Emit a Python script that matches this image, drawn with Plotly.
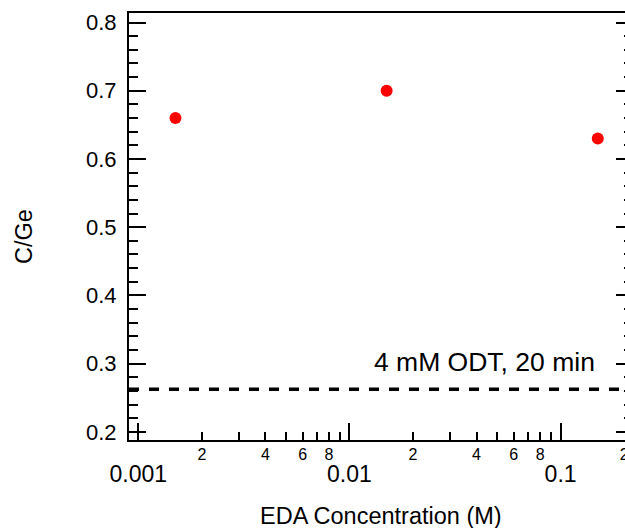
import numpy as np
import plotly.graph_objects as go

# data
eda_conc = [0.0015, 0.015, 0.15]
c_ge = [0.66, 0.70, 0.63]
ref_level = 0.2625
ref_label = "4 mM ODT, 20 min"
x_major_vals = [0.001, 0.01, 0.1]
x_major_text = ["0.001", "0.01", "0.1"]
x_minor_label_vals = [0.002, 0.004, 0.006, 0.008, 0.02, 0.04, 0.06, 0.08, 0.2]
x_minor_label_text = ["2", "4", "6", "8", "2", "4", "6", "8", "2"]
x_minor_tick_vals = [m * d for d in (0.001, 0.01, 0.1) for m in range(2, 10)]
x_title = "EDA Concentration (M)"
y_title = "C/Ge"

FONT = "Liberation Sans, Arial, sans-serif"
xr = [-3.044, -0.695]
yr = [0.188, 0.814]

fig = go.Figure()
fig.add_trace(go.Scatter(x=eda_conc, y=c_ge, mode="markers",
                         marker=dict(color="#ff0000", size=12, line=dict(width=0)),
                         showlegend=False))
# invisible trace so overlay axes render
fig.add_trace(go.Scatter(x=[0.01], y=[0.5], xaxis="x2", yaxis="y2", mode="markers",
                         marker=dict(opacity=0), showlegend=False, hoverinfo="skip"))

fig.add_shape(type="line", xref="paper", x0=0, x1=1, yref="y", y0=ref_level, y1=ref_level,
              line=dict(color="black", width=3.5, dash="10px,10px"))
fig.add_annotation(text=ref_label, xref="paper", x=0.9435, xanchor="right",
                   yref="y", y=0.3025, yanchor="middle", showarrow=False,
                   font=dict(family=FONT, size=26.5, color="black"))
fig.add_annotation(text=x_title, xref="paper", x=0.508, xanchor="center",
                   yref="paper", y=-0.1775, yanchor="middle", showarrow=False,
                   font=dict(family=FONT, size=23.5, color="black"))
fig.add_annotation(text=y_title, xref="paper", x=-0.2117, xanchor="center",
                   yref="paper", y=0.4778, yanchor="middle", showarrow=False,
                   textangle=-90, font=dict(family=FONT, size=23.5, color="black"))

fig.update_layout(
    width=625, height=528,
    margin=dict(l=129, r=0, t=13, b=88, autoexpand=False),
    paper_bgcolor="white", plot_bgcolor="white",
    font=dict(family=FONT, color="black"),
    xaxis=dict(type="log", range=xr, showline=True, linecolor="black", linewidth=2,
               mirror=True, showgrid=False, zeroline=False, automargin=False,
               tickmode="array", tickvals=x_major_vals, ticktext=x_major_text,
               ticks="inside", ticklen=17, tickwidth=2, tickcolor="black",
               tickfont=dict(size=23), ticklabelstandoff=12,
               minor=dict(tickmode="array", tickvals=x_minor_tick_vals, ticks="inside",
                          ticklen=8, tickwidth=2, tickcolor="black", showgrid=False)),
    xaxis2=dict(type="log", range=xr, overlaying="x", anchor="y", side="bottom",
                showline=False, showgrid=False, zeroline=False, ticks="", automargin=False,
                tickmode="array", tickvals=x_minor_label_vals, ticktext=x_minor_label_text,
                tickfont=dict(size=16), ticklabelstandoff=3, ticklabeloverflow="allow"),
    yaxis=dict(range=yr, showline=True, linecolor="black", linewidth=2, mirror=False,
               showgrid=False, zeroline=False, dtick=0.1, tick0=0, automargin=False,
               tickformat=".1f",
               ticks="inside", ticklen=17, tickwidth=2, tickcolor="black",
               tickfont=dict(size=22), ticklabelstandoff=6,
               minor=dict(dtick=0.02, tick0=0, ticks="inside", ticklen=9, tickwidth=2,
                          tickcolor="black", showgrid=False)),
    yaxis2=dict(range=yr, overlaying="y", anchor="x", side="right", showline=False,
                showgrid=False, zeroline=False, dtick=0.1, tick0=0, showticklabels=False,
                automargin=False,
                ticks="inside", ticklen=9, tickwidth=2, tickcolor="black",
                minor=dict(dtick=0.02, tick0=0, ticks="inside", ticklen=1, tickwidth=2,
                           tickcolor="black", showgrid=False)),
)

fig.write_html("out.html", config={"displayModeBar": False},
               post_script="document.body.style.margin='0';document.body.style.overflow='hidden';")
